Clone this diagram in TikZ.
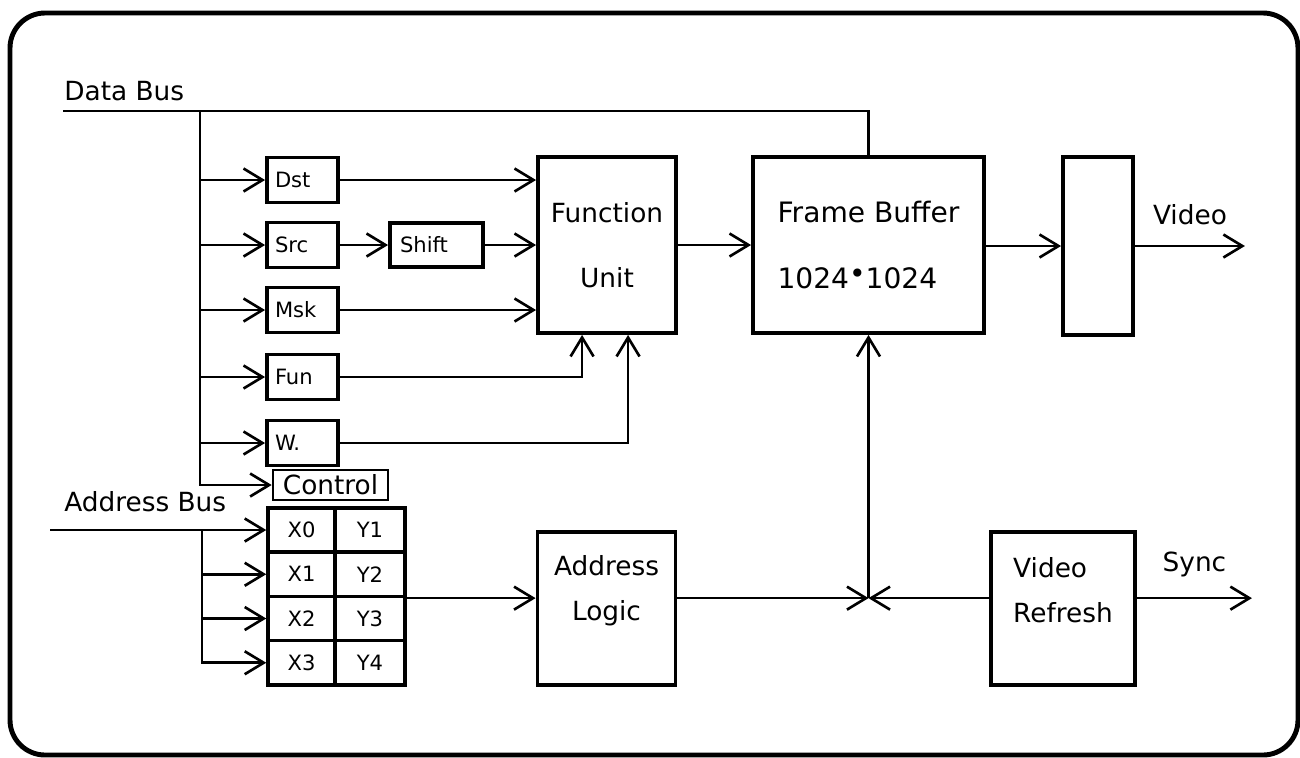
\documentclass[tikz,border=0pt]{standalone}
\usepackage{fontspec}
\setsansfont{DejaVu Sans}
\usetikzlibrary{arrows.meta, positioning, calc}

\begin{document}
\begin{tikzpicture}[
    >={Straight Barb[length=3.8mm, width=4.6mm]},
    font=\sffamily\fontsize{15}{18}\selectfont,
    line width=1.5pt,
    box/.style     ={draw, line width=2.2pt, inner sep=0pt, align=center},
    reg/.style     ={box, minimum width=14.2mm, minimum height=9mm, text width=11mm,
                     align=left, font=\sffamily\fontsize{12}{14}\selectfont},
    cell/.style    ={box, line width=2pt, minimum height=8.85mm,
                     font=\sffamily\fontsize{12}{14}\selectfont},
    unit/.style    ={box, minimum width=27.6mm, minimum height=35.2mm},
    lbl/.style     ={inner sep=0pt},
    flow/.style    ={->},
    bus/.style     ={line width=1.6pt}
]
\useasboundingbox (0,0) rectangle (26,-15.14);

% outer frame
\draw[line width=2.8pt, rounded corners=7mm] (0.2,-0.26) rectangle (25.96,-15.1);

% =================== DATA SIDE: registers on the data bus ===================
\node[lbl, anchor=base west] (dbus) at (1.26,-2.0) {Data Bus};
\coordinate (dbl)  at (1.26,-2.22);
\coordinate (dtap) at (4.0,-2.22);

\node[reg] (dst) at (6.05,-3.6)  {Dst};
\node[reg] (src) at (6.05,-4.9)  {Src};
\node[reg] (msk) at (6.05,-6.2)  {Msk};
\node[reg] (fun) at (6.05,-7.54) {Fun};
\node[reg] (wen) at (6.05,-8.86) {W.};
\node[box, line width=1.5pt, minimum width=23mm, minimum height=6mm] (ctl)
    at (6.61,-9.7) {Control};
\node[reg, minimum width=18.6mm, minimum height=8.8mm, text width=14.6mm] (shift)
    at (8.73,-4.9) {Shift};

% Function unit, frame buffer, video shifter
\node[unit] (fu) at (12.14,-4.9) {Function\\[19pt]Unit};
\node[unit, minimum width=46.2mm, align=left, font=\sffamily\fontsize{16}{19}\selectfont]
    (fb) at (17.37,-4.9)
    {Frame Buffer\\[18pt]1024\raisebox{.3ex}{•}1024};
\node[box, minimum width=14mm, minimum height=35.6mm] (shr) at (21.96,-4.92) {};
\coordinate (vout) at ($(shr.east)+(2.2,0)$);

% Data bus and its taps
\draw[bus] (dbl) -| (fb.north);
\draw[flow] (dtap) |- (ctl.west);
\foreach \r in {dst,src,msk,fun,wen}
    \draw[flow] (dtap |- \r.west) -- (\r.west);

% Into the function unit
\draw[flow] (dst.east) -- (dst.east -| fu.west);
\draw[flow] (src.east) -- (shift.west);
\draw[flow] (shift.east) -- (fu.west);
\draw[flow] (msk.east) -- (msk.east -| fu.west);
\draw[flow] (fun.east) -| ([xshift=9.2mm]fu.south west);
\draw[flow] (wen.east) -| ([xshift=18.4mm]fu.south west);

% Out to the display
\draw[flow] (fu.east) -- (fb.west);
\draw[flow] (fb.east |- shr.west) -- (shr.west);
\draw[flow] (shr.east) -- (vout)
    node[lbl, midway, above=4mm] {Video};

% =================== ADDRESS SIDE ===================
\node[lbl, anchor=base west] (abus) at (1.26,-10.22) {Address Bus};
\coordinate (abl)  at (1.0,-10.6);
\coordinate (atap) at (4.04,-10.6);

\foreach \i/\j in {0/1, 1/2, 2/3, 3/4} {
    \node[cell, minimum width=13.4mm] (x\i) at (6.03,{-10.6-0.885*\i}) {X\i};
    \node[cell, minimum width=14mm]   (y\j) at (7.4,{-10.6-0.885*\i})  {Y\j};
}

\draw[flow] (abl) -- (x0.west);
\foreach \i in {1,2,3}
    \draw[flow] (atap) |- (x\i.west);

% Address logic and video refresh
\node[unit, minimum height=30.6mm] (al) at (12.13,-12.17) {};
\node[lbl, align=center] (altxt) at ($(al)+(0,0.36)$) {Address\\[7.5pt]Logic};
\node[unit, minimum width=28.8mm, minimum height=30.6mm] (vr) at (21.26,-12.17) {};
\node[lbl, align=left] (vrtxt) at ($(vr)+(0,0.36)$) {Video\\[7.5pt]Refresh};

\coordinate (jn)   at (fb.south |- y2.south east);
\coordinate (sout) at ($(vr.east |- jn)+(2.3,0)$);

\draw[flow] (y2.south east) -- (y2.south east -| al.west);
\draw[flow] (al.east |- jn) -- (jn);
\draw[flow] (vr.west |- jn) -- (jn);
\draw[flow] (jn) -- (fb.south);
\draw[flow] (vr.east |- jn) -- (sout)
    node[lbl, midway, above=4mm] {Sync};

\end{tikzpicture}
\end{document}
